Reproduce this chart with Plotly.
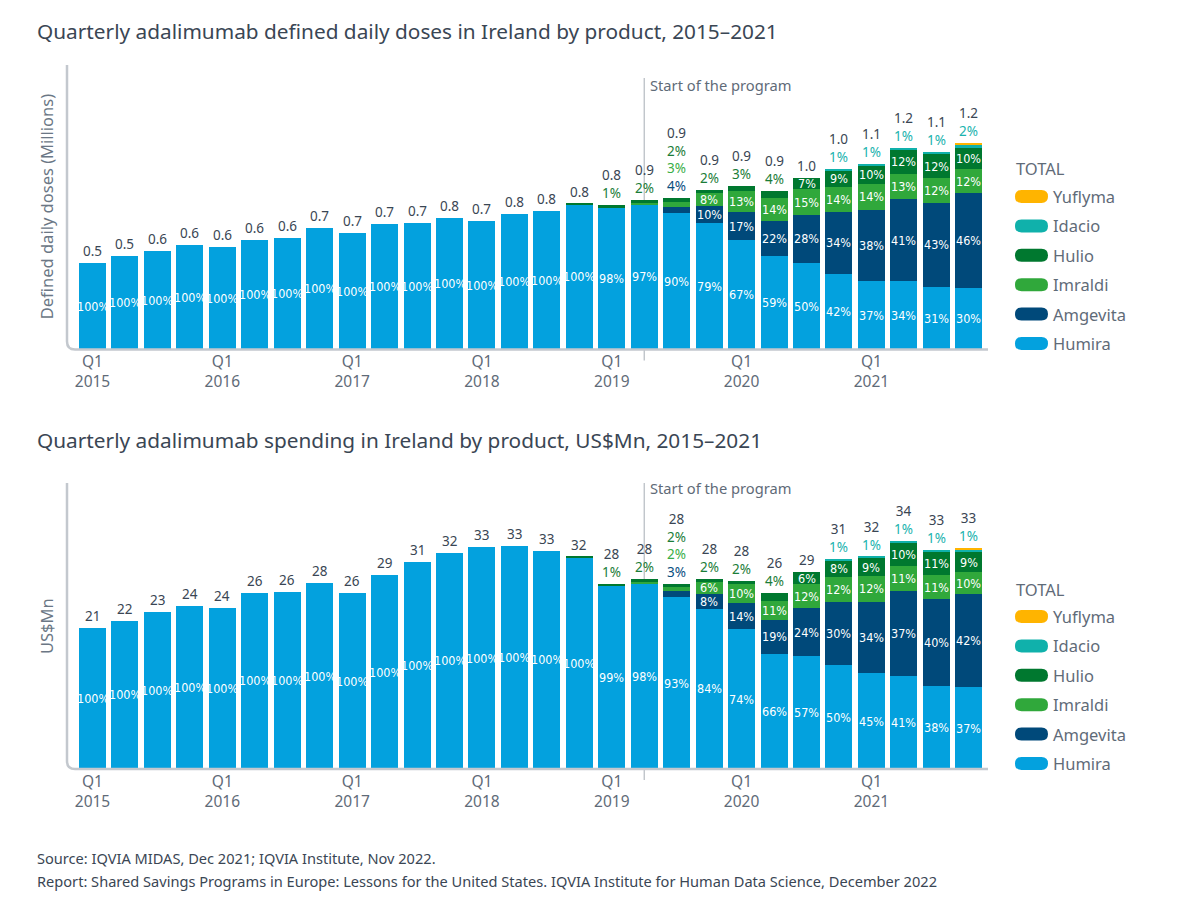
import plotly.graph_objects as go

# --- data ---------------------------------------------------------------
quarters = [f"Q{q} {y}" for y in range(2015, 2022) for q in range(1, 5)]
tick_vals = ["Q1 2015", "Q1 2016", "Q1 2017", "Q1 2018", "Q1 2019", "Q1 2020", "Q1 2021"]
tick_text = ["Q1<br>2015", "Q1<br>2016", "Q1<br>2017", "Q1<br>2018", "Q1<br>2019", "Q1<br>2020", "Q1<br>2021"]
program_start = "Q2 2019"

products = ["Humira", "Amgevita", "Imraldi", "Hulio", "Idacio", "Yuflyma"]

# defined daily doses, millions
ddd_total = [0.50, 0.54, 0.57, 0.60, 0.59, 0.63, 0.64, 0.70, 0.67, 0.72, 0.73, 0.76, 0.74, 0.78,
             0.80, 0.84, 0.83, 0.86, 0.87, 0.92, 0.94, 0.91, 0.99, 1.04, 1.07, 1.16, 1.14, 1.19]
# share of total, %
ddd_humira = [100] * 15 + [99.6, 98.2, 97.1, 90.4, 79.3, 67.2, 59.2, 50.3, 42.0, 37.0, 34.0, 31.4, 29.8]
ddd_amgevita = [0] * 16 + [0.2, 0.3, 4.0, 10.2, 16.8, 22.3, 28.0, 34.0, 38.2, 40.6, 42.8, 45.8]
ddd_imraldi = [0] * 16 + [0.4, 0.4, 3.3, 8.3, 13.0, 14.2, 14.8, 14.0, 13.8, 12.6, 12.2, 11.8]
ddd_hulio = [0] * 15 + [0.4, 1.2, 2.2, 2.3, 2.2, 3.0, 4.3, 6.9, 9.0, 10.0, 11.8, 12.4, 10.2]
ddd_idacio = [0] * 23 + [1.0, 1.0, 1.0, 1.2, 1.8]
ddd_yuflyma = [0] * 27 + [0.4]

# spending, US$Mn
spend_total = [21.1, 22.1, 23.4, 24.4, 24.0, 26.3, 26.4, 27.7, 26.2, 28.9, 30.9, 32.3, 33.1, 33.3,
               32.6, 31.7, 27.6, 28.3, 27.6, 28.4, 28.1, 26.2, 29.4, 31.3, 31.7, 34.1, 32.7, 33.0]
spend_humira = [100] * 15 + [99.6, 99.0, 97.8, 92.9, 84.2, 74.2, 65.8, 57.3, 49.6, 45.0, 40.8, 38.0, 37.0]
spend_amgevita = [0] * 17 + [0.3, 3.2, 8.0, 14.0, 19.2, 24.3, 30.0, 33.8, 37.0, 39.6, 42.0]
spend_imraldi = [0] * 16 + [0.2, 0.3, 2.1, 6.2, 10.0, 11.0, 12.2, 12.0, 12.0, 11.2, 10.8, 10.0]
spend_hulio = [0] * 15 + [0.4, 0.8, 1.6, 1.8, 1.6, 1.8, 4.0, 6.2, 7.8, 8.6, 10.2, 10.8, 9.2]
spend_idacio = [0] * 23 + [0.6, 0.6, 0.8, 0.8, 1.2]
spend_yuflyma = [0] * 27 + [0.4]

ddd_shares = dict(zip(products, [ddd_humira, ddd_amgevita, ddd_imraldi, ddd_hulio, ddd_idacio, ddd_yuflyma]))
spend_shares = dict(zip(products, [spend_humira, spend_amgevita, spend_imraldi, spend_hulio, spend_idacio, spend_yuflyma]))

# --- style --------------------------------------------------------------
bar_colors = {"Humira": "#03a1de", "Amgevita": "#00497a", "Imraldi": "#30a83b",
              "Hulio": "#00782f", "Idacio": "#10b1ab", "Yuflyma": "#ffb400"}
label_colors = {"Humira": "#03a1de", "Amgevita": "#0b4f80", "Imraldi": "#3aae47",
                "Hulio": "#1b7d38", "Idacio": "#1ab3ae", "Yuflyma": "#ffb400"}
DARK = "#3a4654"
GREY = "#5f6b78"
AXIS = "#c3c8ce"
FONT = "Noto Sans"
NARROW = "DejaVu Sans Condensed, Liberation Sans Narrow, Noto Sans"

# the page body adds an 8px margin, so the figure is drawn inside it
OFF = 8
FW, FH = 1180 - 2 * OFF, 911 - 2 * OFF


def X(px):
    return (px - OFF) / FW


def Y(py):
    return 1 - (py - OFF) / FH


def note(x, y, text, size, color, xref="paper", yref="paper", xanchor="left", family=FONT,
         yanchor="middle", **kw):
    fig.add_annotation(x=x, y=y, xref=xref, yref=yref, text=text, showarrow=False,
                       xanchor=xanchor, yanchor=yanchor,
                       font=dict(color=color, size=size, family=family), **kw)


fig = go.Figure()

panels = [
    dict(xa="x", ya="y", top=65, base=349.5, rng=1.638, totals=ddd_total, shares=ddd_shares,
         fmt="{:.1f}", title="Quarterly adalimumab defined daily doses in Ireland by product, 2015–2021",
         title_y=31, ytitle="Defined daily doses (Millions)", leg_y=169, line_top=78, prog_y=85),
    dict(xa="x2", ya="y2", top=483, base=769, rng=42.69, totals=spend_total, shares=spend_shares,
         fmt="{:.0f}", title="Quarterly adalimumab spending in Ireland by product, US$Mn, 2015–2021",
         title_y=440, ytitle="US$Mn", leg_y=589, line_top=483, prog_y=488),
]

for p in panels:
    for prod in products:
        seg = [t * s / 100 for t, s in zip(p["totals"], p["shares"][prod])]
        fig.add_trace(go.Bar(x=quarters, y=seg, name=prod, marker_color=bar_colors[prod],
                             marker_line_width=0, showlegend=False,
                             xaxis=p["xa"], yaxis=p["ya"]))

    xref, yref = p["xa"], p["ya"]
    for i, tot in enumerate(p["totals"]):
        base = 0
        above = []
        for prod in products:
            s = p["shares"][prod][i]
            seg = tot * s / 100
            pct = round(s)
            if pct >= 5:
                note(i, base + seg / 2, f"{pct}%", 12.5, "white", xref, yref, "center", family=NARROW)
            elif pct >= 1:
                above.append(f'<span style="color:{label_colors[prod]}">{pct}%</span>')
            base += seg
        # small shares stacked above the bar, topped by the total
        lines = [p["fmt"].format(tot)] + above[::-1]
        note(i, tot, "<br>".join(lines), 13.5, DARK, xref, yref, "center",
             yanchor="bottom", yshift=1)

    # axis lines with a rounded corner
    r = 8
    path = (f"M {X(67)},{Y(p['top'])} V {Y(p['base'] - r)} "
            f"Q {X(67)},{Y(p['base'])} {X(67 + r)},{Y(p['base'])} H {X(988)}")
    fig.add_shape(type="path", path=path, xref="paper", yref="paper",
                  line=dict(color=AXIS, width=2.5))

    # start of the program marker
    xs = quarters.index(program_start)
    fig.add_shape(type="line", xref=xref, yref="paper", x0=xs, x1=xs,
                  y0=Y(p["line_top"]), y1=Y(p["base"] + 11),
                  line=dict(color="#b4bac1", width=1.2), layer="below")
    note(xs, Y(p["prog_y"]), "Start of the program", 14.7, GREY, xref, "paper", "left", xshift=4)

    # titles
    note(X(35), Y(p["title_y"]), p["title"], 20.8, DARK)
    note(X(46), Y((p["top"] + p["base"]) / 2), p["ytitle"], 16.5, "#6b7785",
         xanchor="center", textangle=-90)

    # legend
    note(X(1014), Y(p["leg_y"]), "TOTAL", 16.5, GREY)
    pill = "M 6.5,-6.5 H 26.5 Q 33,-6.5 33,0 Q 33,6.5 26.5,6.5 H 6.5 Q 0,6.5 0,0 Q 0,-6.5 6.5,-6.5 Z"
    for k, prod in enumerate(reversed(products)):
        cy = p["leg_y"] + 27.5 + k * 29.4
        fig.add_shape(type="path", path=pill, xref="paper", yref="paper",
                      xsizemode="pixel", ysizemode="pixel", xanchor=X(1015), yanchor=Y(cy),
                      fillcolor=bar_colors[prod], line=dict(width=0))
        note(X(1051), Y(cy), prod, 16.5, GREY)

# footer
note(X(35), Y(858), "Source: IQVIA MIDAS, Dec 2021; IQVIA Institute, Nov 2022.", 14.6, DARK)
note(X(35), Y(881), "Report: Shared Savings Programs in Europe: Lessons for the United States. "
     "IQVIA Institute for Human Data Science, December 2022", 14.6, DARK)

xaxis_style = dict(type="category", categoryorder="array", categoryarray=quarters,
                   tickmode="array", tickvals=tick_vals, ticktext=tick_text,
                   showgrid=False, zeroline=False, showline=False, ticks="",
                   ticklabelstandoff=1,
                   tickfont=dict(color=GREY, size=15.5), domain=[X(74.5), X(985)])
yaxis_style = dict(showgrid=False, zeroline=False, showline=False, showticklabels=False, ticks="")

fig.update_layout(
    width=FW, height=FH, margin=dict(l=0, r=0, t=0, b=0),
    paper_bgcolor="white", plot_bgcolor="rgba(0,0,0,0)",
    font=dict(family=FONT, color=DARK),
    barmode="stack", bargap=0.17, showlegend=False,
    xaxis=dict(**xaxis_style, anchor="y"),
    yaxis=dict(**yaxis_style, domain=[Y(349.5), Y(65)], range=[0, 1.638], anchor="x"),
    xaxis2=dict(**xaxis_style, anchor="y2"),
    yaxis2=dict(**yaxis_style, domain=[Y(769), Y(483)], range=[0, 42.69], anchor="x2"),
)

fig.write_html("out.html")
